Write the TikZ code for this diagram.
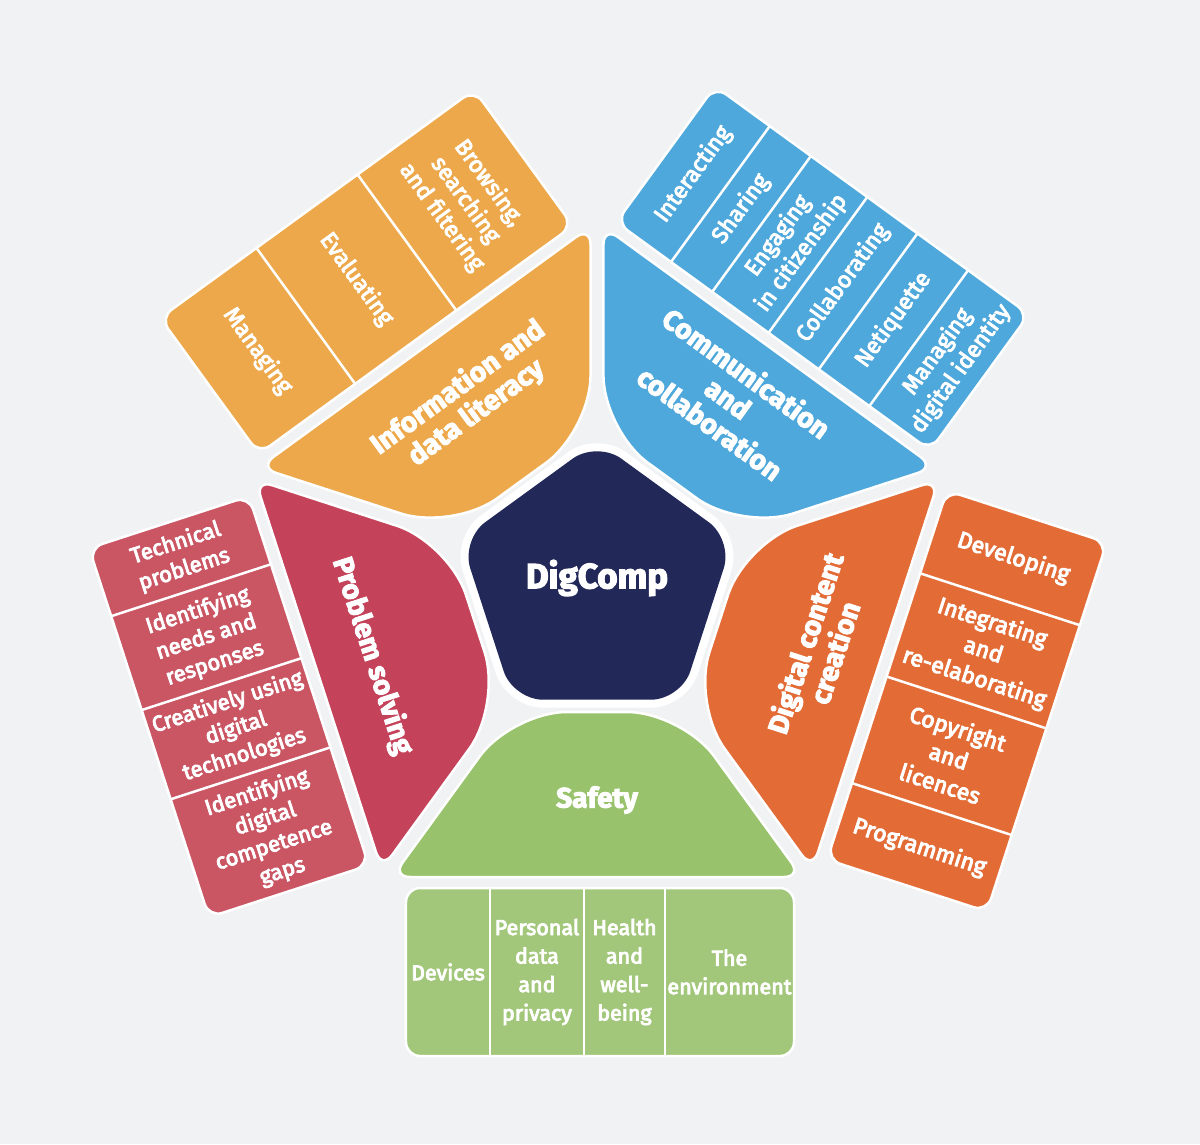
\documentclass[tikz,border=0pt]{standalone}
\usepackage{fontspec}
\setmainfont{Fira Sans}
\newfontfamily\itemfont{Fira Sans}[UprightFeatures={FakeBold=4}]
\newfontfamily\titlefont{Fira Sans}[BoldFeatures={FakeBold=3.5}]
\definecolor{bg}{RGB}{241,242,244}
\definecolor{navy}{RGB}{34,40,88}
\definecolor{infoC}{RGB}{237,168,75}
\definecolor{commC}{RGB}{79,168,220}
\definecolor{dccC}{RGB}{227,108,54}
\definecolor{safeC}{RGB}{152,195,108}
\definecolor{safeP}{RGB}{162,199,123}
\definecolor{probC}{RGB}{196,66,90}
\definecolor{probP}{RGB}{202,86,100}
\newcommand\dcseg[2]{%
  \begin{scope}[rotate=#1]
    \path[seg, fill=#2] (293,0) [rounded corners=18pt] -- (293,204.9)
      [rounded corners=55pt] -- (128,85) -- (128,-85)
      [rounded corners=18pt] -- (293,-204.9) -- cycle;
  \end{scope}}
\newcommand\dcpanel[3]{%
  \begin{scope}[rotate=#1]
    \path[panel, fill=#2] (304,0) [rounded corners=14pt] -- (304,-191) -- (472,-191)
      -- (472,197) -- (304,197) -- cycle;
    \foreach \c in {#3} {\draw[divider] (304,\c) -- (472,\c);}
  \end{scope}}
\begin{document}
\begin{tikzpicture}[x=1pt,y=1pt,
  seg/.style={draw=white, line width=2.5pt},
  panel/.style={draw=white, line width=2.5pt},
  divider/.style={draw=white, line width=2.5pt},
  title/.style={text=white, align=center, font=\titlefont\bfseries\fontsize{28}{31}\selectfont, inner sep=0pt},
  item/.style={text=white, align=center, font=\itemfont\fontsize{23}{29}\selectfont, inner sep=0pt},
  pitem/.style={text=white, align=center, font=\itemfont\fontsize{22}{27.5}\selectfont, inner sep=0pt},
  sitem/.style={text=white, align=center, font=\itemfont\fontsize{21.5}{28.5}\selectfont, inner sep=0pt},
  centre/.style={text=white, font=\titlefont\bfseries\fontsize{35}{40}\selectfont, inner sep=0pt}]
\fill[bg] (-597,-560) rectangle (603,584);
\useasboundingbox (-597,-560) rectangle (603,584);

% segments
\dcseg{126}{infoC}
\dcseg{54}{commC}
\dcseg{342}{dccC}
\dcseg{270}{safeC}
\dcseg{198}{probC}

% panels
\dcpanel{126}{infoC}{-47,78}
\dcpanel{54}{commC}{129.4,78.5,8.8,-53.2,-115.8}
\dcpanel{342}{dccC}{110,1.5,-110.6}
\dcpanel{270}{safeP}{-107,-13,68}
\dcpanel{198}{probP}{-119.5,-20.8,73}

% centre pentagon
\path[draw=white, line width=16pt, rounded corners=30pt]
  (126:115.7) -- (162:143) -- (234:143) -- (306:143) -- (18:143) -- (90:143) -- cycle;
\path[fill=navy, rounded corners=30pt]
  (126:115.7) -- (162:143) -- (234:143) -- (306:143) -- (18:143) -- (90:143) -- cycle;
\node[centre] (dig) at (0,6) {DigComp};

% Information and data literacy
\begin{scope}[rotate=126]
  \node[title, rotate=36] (info) at (225,-3) {Information and\\data literacy};
  \node[item, rotate=-54] (brows) at (388,-119) {Browsing,\\searching\\and filtering};
  \node[item, rotate=-54] (evalu) at (388,15.5) {Evaluating};
  \node[item, rotate=-54] (manag) at (388,137.5) {Managing};
\end{scope}

% Communication and collaboration
\begin{scope}[rotate=54]
  \node[title, rotate=-36] (comm) at (228,3) {Communication\\and\\collaboration};
  \node[item, rotate=54] (inter) at (388,163) {Interacting};
  \node[item, rotate=54] (shar) at (388,104) {Sharing};
  \node[item, rotate=54] (engag) at (388,43.6) {Engaging\\in citizenship};
  \node[item, rotate=54] (collab) at (388,-22) {Collaborating};
  \node[item, rotate=54] (netiq) at (388,-84.5) {Netiquette};
  \node[item, rotate=54] (ident) at (388,-153.5) {Managing\\digital identity};
\end{scope}

% Digital content creation
\begin{scope}[rotate=342]
  \node[title, rotate=72] (dcc) at (231,8) {Digital content\\creation};
  \node[item, rotate=-18] (devel) at (388,153.5) {Developing};
  \node[item, rotate=-18] (integ) at (388,55.75) {Integrating\\and\\re-elaborating};
  \node[item, rotate=-18] (copyr) at (388,-54.5) {Copyright\\and\\licences};
  \node[item, rotate=-18] (progr) at (388,-150.8) {Programming};
\end{scope}

% Safety
\begin{scope}[rotate=270]
  \node[title] (safe) at (216,0) {Safety};
  \node[sitem] (devic) at (388,-149) {Devices};
  \node[sitem] (perso) at (388,-60) {Personal\\data\\and\\privacy};
  \node[sitem] (healt) at (388,27.5) {Health\\and\\well-\\being};
  \node[sitem] (envir) at (388,132.5) {The\\environment};
\end{scope}

% Problem solving
\begin{scope}[rotate=198]
  \node[title, rotate=-72] (prob) at (236,-1) {Problem solving};
  \node[pitem, rotate=18] (techn) at (388,-155) {Technical\\problems};
  \node[pitem, rotate=18] (needs) at (388,-70) {Identifying\\needs and\\responses};
  \node[pitem, rotate=18] (creat) at (388,26) {Creatively using\\digital\\technologies};
  \node[pitem, rotate=18] (gaps) at (388,135) {Identifying\\digital\\competence\\gaps};
\end{scope}
\end{tikzpicture}
\end{document}
